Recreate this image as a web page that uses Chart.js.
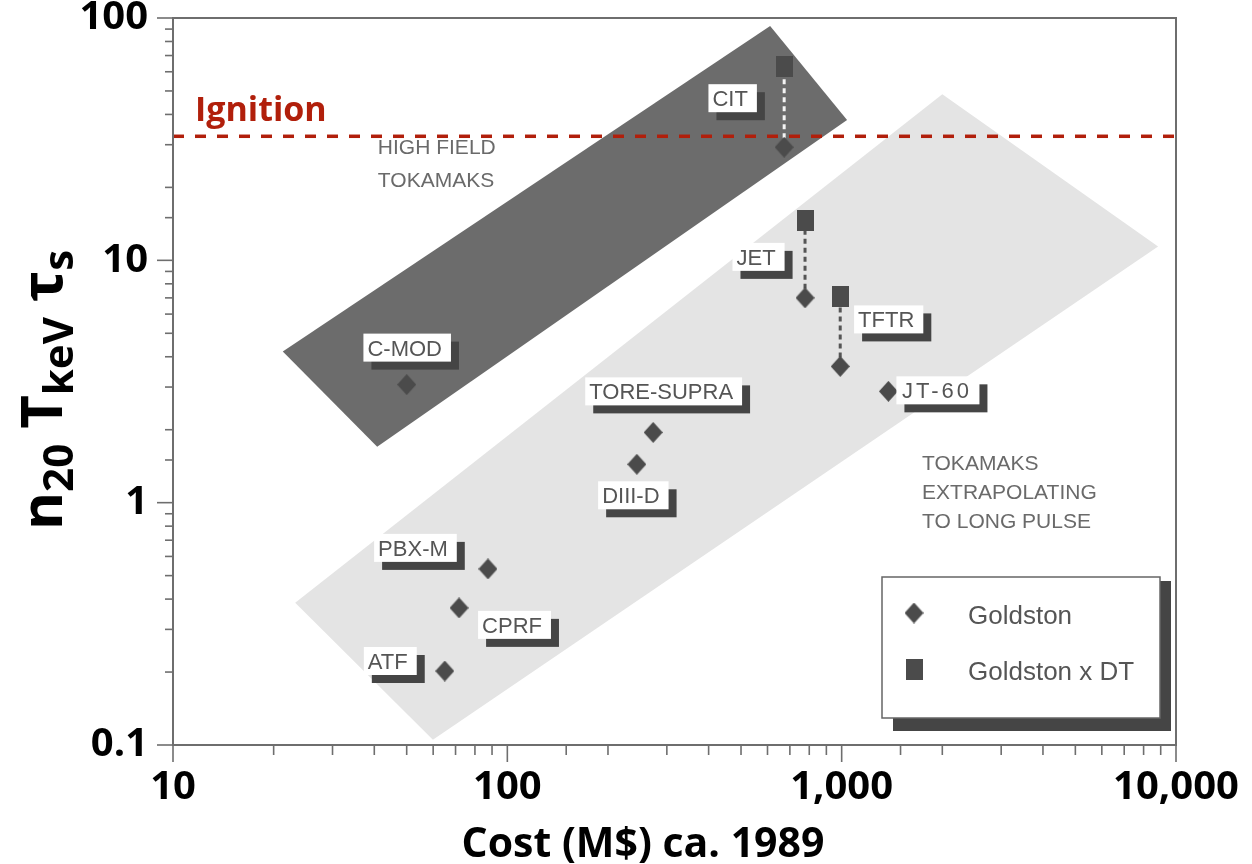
<!DOCTYPE html>
<html>
<head>
<meta charset="utf-8">
<script src="https://cdn.jsdelivr.net/npm/chart.js@4.4.1/dist/chart.umd.min.js"></script>
<style>
  html, body { margin: 0; padding: 0; background: #fff; }
  #wrap { width: 1252px; height: 864px; }
</style>
</head>
<body>
<div id="wrap"><canvas id="chart" width="1252" height="864"></canvas></div>
<script>
// ===================== DATA =====================
const machines = ["CIT", "JET", "TFTR", "JT-60", "C-MOD", "TORE-SUPRA", "DIII-D", "PBX-M", "CPRF", "ATF"];
const cost = [673, 777, 990, 1380, 50, 273, 244, 87.5, 71.7, 65];          // M$ ca. 1989
const goldston = [29.3, 7.0, 3.65, 2.88, 3.07, 1.95, 1.44, 0.533, 0.368, 0.202];
const goldstonDT = [63, 14.6, 7.1, null, null, null, null, null, null, null];

const ignitionLevel = 32.5;

// band corners (cost, n20 T tau)
const highFieldCost = [611, 1038, 40.8, 21.3];
const highFieldValue = [92.7, 37.9, 1.70, 4.21];
const longPulseCost = [2000, 8840, 59.9, 23.2];
const longPulseValue = [48.5, 11.4, 0.105, 0.386];

const xTickValues = [10, 100, 1000, 10000];
const xTickLabels = ["10", "100", "1,000", "10,000"];
const yTickValues = [0.1, 1, 10, 100];
const yTickLabels = ["0.1", "1", "10", "100"];

// ===================== LAYOUT / STYLE =====================
const labelLayout = [
  { dx: -54, dy: -48 },          // CIT
  { dx: -49, dy: -40 },          // JET
  { dx: 46, dy: -46 },           // TFTR
  { dx: 47, dy: 0, spacing: 3 }, // JT-60
  { dx: -2, dy: -36 },           // C-MOD
  { dx: 8, dy: -40 },            // TORE-SUPRA
  { dx: -6, dy: 32 },            // DIII-D
  { dx: -75, dy: -20 },          // PBX-M
  { dx: 53, dy: 18 },            // CPRF
  { dx: -57, dy: -9 }            // ATF
];

const bandNotes = [
  { lines: ["HIGH FIELD", "TOKAMAKS"], x: 41, y: 27.4, lh: 33 },
  { lines: ["TOKAMAKS", "EXTRAPOLATING", "TO LONG PULSE"], x: 1740, y: 1.37, lh: 29 }
];

const yTitleParts = [
  { t: "n" }, { t: "20", sub: true }, { t: " T" }, { t: "keV", sub: true }, { t: " \u03c4" }, { t: "s", sub: true }
];

const MARK = "#4b4b4b";
const RED = "#b11f0b";
const LABEL_FONT = "22px 'Liberation Sans', Arial, sans-serif";
const AXIS_FONT = "'Open Sans', 'DejaVu Sans', sans-serif";

function makeDiamond(w, h) {
  const c = document.createElement("canvas");
  c.width = w; c.height = h;
  const g = c.getContext("2d");
  g.fillStyle = MARK;
  g.beginPath();
  g.moveTo(w / 2, 0); g.lineTo(w, h / 2); g.lineTo(w / 2, h); g.lineTo(0, h / 2);
  g.closePath(); g.fill();
  return c;
}

function makeSquare(w, h) {
  const c = document.createElement("canvas");
  c.width = w; c.height = h;
  const g = c.getContext("2d");
  g.fillStyle = MARK;
  g.fillRect(0, 0, w, h);
  return c;
}

const diamondImg = makeDiamond(19, 21);
const squareImg = makeSquare(17, 21);

function tickLabel(value, values, labels) {
  const i = values.findIndex(v => Math.abs(v - value) / v < 1e-6);
  return i >= 0 ? labels[i] : "";
}

function pts(xs, ys) {
  const out = xs.map((x, i) => ({ x, y: ys[i] }));
  out.push({ x: xs[0], y: ys[0] });
  return out;
}

// ===================== DATASETS =====================
const connectors = [];
cost.forEach((c, i) => {
  if (goldstonDT[i] == null) return;
  connectors.push({
    type: "line",
    label: "link-" + machines[i],
    data: [{ x: c, y: goldston[i] }, { x: c, y: goldstonDT[i] }],
    borderColor: i === 0 ? "#f4f4f4" : "#555",
    borderWidth: 3,
    borderDash: [5, 4],
    pointRadius: 0,
    fill: false,
    order: 4
  });
});

const datasets = [
  {
    type: "line",
    label: "longPulse",
    data: pts(longPulseCost, longPulseValue),
    backgroundColor: "#e4e4e4",
    borderWidth: 0,
    pointRadius: 0,
    tension: 0,
    fill: "shape",
    order: 10
  },
  {
    type: "line",
    label: "highField",
    data: pts(highFieldCost, highFieldValue),
    backgroundColor: "#6c6c6c",
    borderWidth: 0,
    pointRadius: 0,
    tension: 0,
    fill: "shape",
    order: 9
  },
  {
    type: "line",
    label: "Ignition",
    data: [{ x: 10, y: ignitionLevel }, { x: 10000, y: ignitionLevel }],
    borderColor: RED,
    borderWidth: 3.5,
    borderDash: [11, 11],
    pointRadius: 0,
    fill: false,
    order: 6
  },
  ...connectors,
  {
    type: "scatter",
    label: "Goldston x DT",
    data: cost.map((c, i) => ({ x: c, y: goldstonDT[i] })).filter(p => p.y != null),
    pointStyle: squareImg,
    pointRadius: 10,
    order: 2
  },
  {
    type: "scatter",
    label: "Goldston",
    data: cost.map((c, i) => ({ x: c, y: goldston[i] })),
    pointStyle: diamondImg,
    pointRadius: 10,
    order: 1
  }
];

// ===================== DECORATION PLUGIN =====================
const decor = {
  id: "decor",
  afterDatasetsDraw(chart) {
    const ctx = chart.ctx;
    const area = chart.chartArea;
    const xs = chart.scales.x, ys = chart.scales.y;

    // frame
    ctx.save();
    ctx.strokeStyle = "#6e6e6e";
    ctx.lineWidth = 2;
    ctx.strokeRect(area.left, area.top, area.right - area.left, area.bottom - area.top);

    // tick marks
    ctx.lineWidth = 1.6;
    xs.ticks.forEach(t => {
      const p = xs.getPixelForValue(t.value);
      const lg = Math.log10(t.value);
      const len = Math.abs(lg - Math.round(lg)) < 1e-6 ? 17 : 10;
      ctx.beginPath(); ctx.moveTo(p, area.bottom); ctx.lineTo(p, area.bottom + len); ctx.stroke();
    });
    ys.ticks.forEach(t => {
      const p = ys.getPixelForValue(t.value);
      const lg = Math.log10(t.value);
      const len = Math.abs(lg - Math.round(lg)) < 1e-6 ? 16 : 8;
      ctx.beginPath(); ctx.moveTo(area.left, p); ctx.lineTo(area.left - len, p); ctx.stroke();
    });
    ctx.restore();

    // band notes
    ctx.save();
    ctx.font = "21px 'Liberation Sans', Arial, sans-serif";
    ctx.fillStyle = "#6a6a6a";
    ctx.textBaseline = "alphabetic";
    bandNotes.forEach(n => {
      const px = xs.getPixelForValue(n.x), py = ys.getPixelForValue(n.y);
      n.lines.forEach((l, k) => ctx.fillText(l, px, py + k * n.lh));
    });
    ctx.restore();

    // ignition text
    ctx.save();
    ctx.font = "bold 34px " + AXIS_FONT;
    ctx.fillStyle = RED;
    ctx.fillText("Ignition", area.left + 22, ys.getPixelForValue(ignitionLevel) - 15);
    ctx.restore();

    // machine labels
    const meta = chart.getDatasetMeta(chart.data.datasets.findIndex(d => d.label === "Goldston"));
    ctx.save();
    ctx.font = LABEL_FONT;
    ctx.textBaseline = "middle";
    ctx.textAlign = "center";
    meta.data.forEach((pt, i) => {
      const lay = labelLayout[i];
      ctx.letterSpacing = (lay.spacing || 0) + "px";
      const w = ctx.measureText(machines[i]).width;
      const cx = pt.x + lay.dx, cy = pt.y + lay.dy;
      const x0 = cx - w / 2 - 4, x1 = cx + w / 2 + 9;
      const y0 = cy - 15, y1 = cy + 13;
      ctx.fillStyle = "#454545";
      ctx.fillRect(x0 + 8, y0 + 8, x1 - x0, y1 - y0);
      ctx.fillStyle = "#fff";
      ctx.fillRect(x0, y0, x1 - x0, y1 - y0);
      ctx.fillStyle = "#555";
      ctx.fillText(machines[i], cx + (lay.spacing || 0) / 2, cy + 1);
    });
    ctx.restore();

    // legend
    ctx.save();
    const lx = area.right - 294, ly = area.bottom - 168, lw = 278, lh = 141;
    ctx.fillStyle = "#454545";
    ctx.fillRect(lx + 11, ly + 4, lw, lh + 9);
    ctx.fillStyle = "#fff";
    ctx.fillRect(lx, ly, lw, lh);
    ctx.strokeStyle = "#666";
    ctx.lineWidth = 1.5;
    ctx.strokeRect(lx, ly, lw, lh);
    const items = [{ img: diamondImg, text: "Goldston" }, { img: squareImg, text: "Goldston x DT" }];
    ctx.font = "26px 'Liberation Sans', Arial, sans-serif";
    ctx.fillStyle = "#555";
    ctx.textBaseline = "middle";
    items.forEach((it, k) => {
      const cy = ly + 36 + k * 56;
      ctx.drawImage(it.img, lx + 32 - it.img.width / 2, cy - it.img.height / 2);
      ctx.fillText(it.text, lx + 86, cy + 4);
    });
    ctx.restore();
  },
  afterDraw(chart) {
    const ctx = chart.ctx;
    ctx.save();
    ctx.fillStyle = "#000";
    // x title
    ctx.font = "bold 41px " + AXIS_FONT;
    ctx.textAlign = "center";
    ctx.textBaseline = "alphabetic";
    ctx.fillText("Cost (M$) ca. 1989", 643, 857);
    // y title (rotated, with subscripts)
    ctx.translate(62, 530);
    ctx.rotate(-Math.PI / 2);
    ctx.textAlign = "left";
    let pos = 0;
    yTitleParts.forEach(p => {
      ctx.font = (p.sub ? "bold 42px " : "bold 58px ") + AXIS_FONT;
      ctx.fillText(p.t, pos, p.sub ? 11 : 0);
      pos += ctx.measureText(p.t).width;
    });
    ctx.restore();
  }
};

// ===================== CHART =====================
new Chart(document.getElementById("chart"), {
  type: "scatter",
  data: { datasets },
  options: {
    responsive: false,
    animation: false,
    layout: { padding: { top: 18, right: 76, left: 0, bottom: 0 } },
    plugins: { legend: { display: false }, tooltip: { enabled: false } },
    scales: {
      x: {
        type: "logarithmic",
        min: 10,
        max: 10000,
        grid: { display: false, drawTicks: false },
        border: { display: false },
        ticks: {
          autoSkip: false,
          maxRotation: 0,
          padding: 19,
          color: "#000",
          font: { family: AXIS_FONT, weight: "bold", size: 40 },
          callback: v => tickLabel(v, xTickValues, xTickLabels)
        },
        afterFit: s => { s.height = 119; s.paddingLeft = 0; s.paddingRight = 0; }
      },
      y: {
        type: "logarithmic",
        min: 0.1,
        max: 100,
        grid: { display: false, drawTicks: false },
        border: { display: false },
        ticks: {
          autoSkip: false,
          padding: 25,
          color: "#000",
          font: { family: AXIS_FONT, weight: "bold", size: 40 },
          callback: v => tickLabel(v, yTickValues, yTickLabels)
        },
        afterFit: s => { s.width = 173; s.paddingTop = 0; s.paddingBottom = 0; }
      }
    }
  },
  plugins: [decor]
});
</script>
</body>
</html>
